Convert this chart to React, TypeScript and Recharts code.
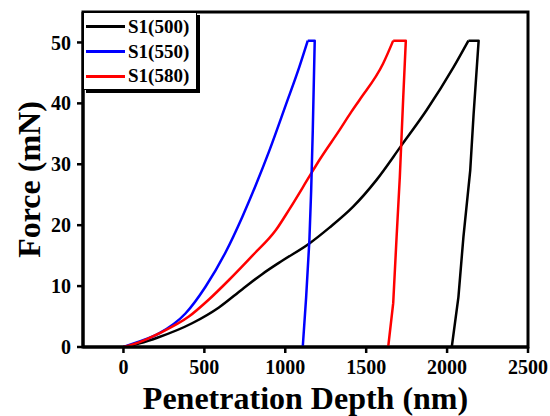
import React from 'react';
import { LineChart, Line, XAxis, YAxis, Legend, ReferenceArea, Label } from 'recharts';

const FONT = "'Times New Roman', 'Liberation Serif', serif";

// S1(500) – black: loading branch, then hold + unloading branch
const s500LoadDepth = [0, 100, 217, 424, 590, 735, 859, 983, 1149, 1273, 1418, 1563, 1718, 1874, 2039, 2132];
const s500LoadForce = [0, 0.6, 1.6, 3.9, 6.5, 9.5, 12.0, 14.2, 17.0, 19.6, 23.0, 27.4, 33.1, 38.9, 45.9, 50.3];
const s500UnloadDepth = [2132, 2195, 2164, 2143, 2101, 2070, 2029];
const s500UnloadForce = [50.3, 50.3, 38.3, 29.0, 18.1, 8.2, 0];

// S1(550) – blue
const s550LoadDepth = [0, 100, 217, 383, 507, 632, 735, 818, 901, 1004, 1087, 1139];
const s550LoadForce = [0, 0.9, 2.2, 5.5, 9.9, 15.6, 21.4, 26.6, 32.2, 39.8, 46.0, 50.3];
const s550UnloadDepth = [1139, 1182, 1170, 1160, 1149, 1129, 1108];
const s550UnloadForce = [50.3, 50.3, 35.6, 25.7, 17.5, 8.2, 0];

// S1(580) – red
const s580LoadDepth = [0, 100, 217, 404, 528, 652, 797, 942, 1025, 1149, 1211, 1335, 1408, 1460, 1604, 1667];
const s580LoadForce = [0, 0.8, 2.2, 5.0, 7.8, 11.0, 15.0, 19.2, 22.6, 28.0, 30.7, 35.6, 38.6, 40.6, 46.5, 50.3];
const s580UnloadDepth = [1667, 1745, 1729, 1708, 1688, 1667, 1636];
const s580UnloadForce = [50.3, 50.3, 41.0, 28.0, 18.1, 7.2, 0];

const seriesNames = ['S1(500)', 'S1(550)', 'S1(580)'];
const seriesColors = ['#000000', '#0000ff', '#ff0000'];

const xTicks = [0, 500, 1000, 1500, 2000, 2500];
const yTicks = [0, 10, 20, 30, 40, 50];
const xDomain = [-250, 2500];
const yDomain = [0, 55];

const toRows = (xs: number[], ys: number[]) => xs.map((x, i) => ({ x, y: ys[i] }));

const loadData = [
  toRows(s500LoadDepth, s500LoadForce),
  toRows(s550LoadDepth, s550LoadForce),
  toRows(s580LoadDepth, s580LoadForce),
];
const unloadData = [
  toRows(s500UnloadDepth, s500UnloadForce),
  toRows(s550UnloadDepth, s550UnloadForce),
  toRows(s580UnloadDepth, s580UnloadForce),
];

const LegendBox = (props: any) => {
  const seen: Record<string, boolean> = {};
  const payload = (props.payload || []).filter((p: any) => {
    if (p.type === 'none' || !seriesNames.includes(p.value) || seen[p.value]) return false;
    seen[p.value] = true;
    return true;
  });
  return (
    <div
      style={{
        border: '1.5px solid #000',
        boxShadow: '3px 3px 0 #000',
        background: '#fff',
        width: 114,
        boxSizing: 'border-box',
        paddingTop: 1.5,
        fontFamily: FONT,
      }}
    >
      {payload.map((p: any) => (
        <div key={p.value} style={{ display: 'flex', alignItems: 'center', height: 24.7 }}>
          <div style={{ width: 39, height: 3, background: p.color, marginLeft: 2 }} />
          <span style={{ marginLeft: 3, fontSize: 19, fontWeight: 'bold', lineHeight: '24px', color: '#000' }}>
            {p.value}
          </span>
        </div>
      ))}
    </div>
  );
};

const YLabel = (props: any) => {
  const vb = props.viewBox || { x: 0, y: 0, width: 0, height: 0 };
  const cx = vb.x + 29;
  const cy = vb.y + vb.height / 2;
  return (
    <text
      x={cx}
      y={cy}
      transform={`rotate(-90 ${cx} ${cy})`}
      textAnchor="middle"
      dominantBaseline="central"
      style={{ fontFamily: FONT, fontSize: 32, fontWeight: 'bold', fill: '#000' }}
    >
      Force (mN)
    </text>
  );
};

const tickStyle = { fontFamily: FONT, fontSize: 20, fontWeight: 'bold', fill: '#000' };

export default function App() {
  return (
    <div style={{ position: 'absolute', left: 0, top: 0, width: 550, height: 416, background: '#fff' }}>
      <LineChart width={550} height={416} margin={{ top: 12, right: 22, bottom: 0, left: 0 }}>
        <XAxis
          dataKey="x"
          type="number"
          domain={xDomain}
          ticks={xTicks}
          allowDataOverflow
          height={69}
          tickSize={6}
          tickMargin={7}
          tick={tickStyle}
          axisLine={{ stroke: '#000', strokeWidth: 3 }}
          tickLine={{ stroke: '#000', strokeWidth: 2.5 }}
        >
          <Label
            value="Penetration Depth (nm)"
            position="insideBottom"
            offset={7}
            style={{ fontFamily: FONT, fontSize: 32, fontWeight: 'bold', fill: '#000' }}
          />
        </XAxis>
        <YAxis
          dataKey="y"
          type="number"
          domain={yDomain}
          ticks={yTicks}
          allowDataOverflow
          width={83}
          tickSize={6}
          tickMargin={6}
          tick={tickStyle}
          axisLine={{ stroke: '#000', strokeWidth: 3 }}
          tickLine={{ stroke: '#000', strokeWidth: 2.5 }}
        >
          <Label content={<YLabel />} />
        </YAxis>
        <ReferenceArea
          x1={xDomain[0]}
          x2={xDomain[1]}
          y1={yDomain[0]}
          y2={yDomain[1]}
          fill="none"
          fillOpacity={0}
          stroke="#000"
          strokeWidth={3}
          ifOverflow="visible"
        />
        {loadData.map((d, i) => (
          <Line
            key={'load-' + seriesNames[i]}
            data={d}
            dataKey="y"
            name={seriesNames[i]}
            type="monotone"
            stroke={seriesColors[i]}
            strokeWidth={2.5}
            dot={false}
            activeDot={false}
            isAnimationActive={false}
          />
        ))}
        {unloadData.map((d, i) => (
          <Line
            key={'unload-' + seriesNames[i]}
            data={d}
            dataKey="y"
            name={seriesNames[i] + ' unloading'}
            legendType="none"
            type="linear"
            stroke={seriesColors[i]}
            strokeWidth={2.5}
            strokeLinejoin="round"
            dot={false}
            activeDot={false}
            isAnimationActive={false}
          />
        ))}
        <Legend
          layout="vertical"
          align="center"
          verticalAlign="middle"
          wrapperStyle={{ left: 83, top: 12, width: 'auto' }}
          content={<LegendBox />}
        />
      </LineChart>
    </div>
  );
}
